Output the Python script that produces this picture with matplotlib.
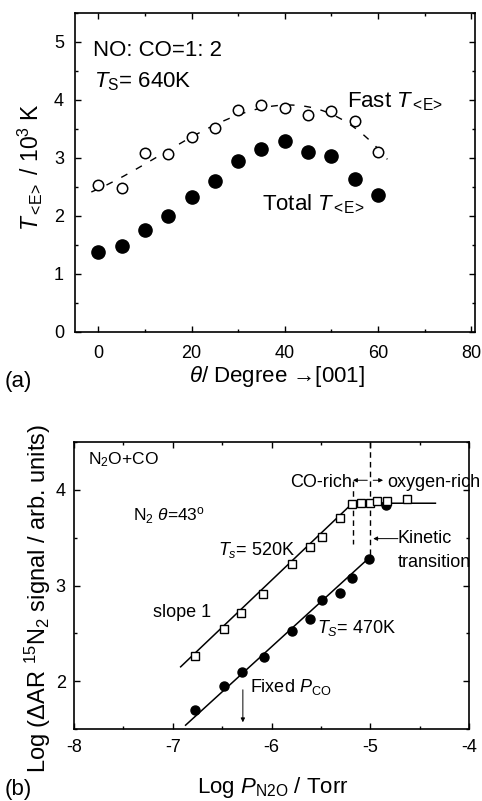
import numpy as np
import matplotlib
matplotlib.use("Agg")
import matplotlib.pyplot as plt
from matplotlib.ticker import MultipleLocator

plt.rcParams['font.family'] = ['Liberation Sans', 'DejaVu Sans']
plt.rcParams['mathtext.fontset'] = 'custom'
plt.rcParams['mathtext.rm'] = 'Liberation Sans'
plt.rcParams['mathtext.it'] = 'Liberation Sans:italic'
plt.rcParams['mathtext.bf'] = 'Liberation Sans:bold'
plt.rcParams['axes.unicode_minus'] = False

# ---------------- Panel (a) data ----------------
theta = [0, 5, 10, 15, 20, 25, 30, 35, 40, 45, 50, 55, 60]
fast_T = [2.53, 2.48, 3.08, 3.07, 3.37, 3.51, 3.83, 3.91, 3.87, 3.74, 3.81, 3.63, 3.10]
total_T = [1.38, 1.49, 1.76, 2.00, 2.32, 2.60, 2.95, 3.16, 3.29, 3.10, 3.04, 2.64, 2.37]
a_xticks = [0, 20, 40, 60, 80]
a_yticks = [0, 1, 2, 3, 4, 5]

# ---------------- Panel (b) data ----------------
logP_520 = [-6.776, -6.479, -6.304, -6.084, -5.79, -5.61, -5.49, -5.31, -5.18,
            -5.09, -5.005, -4.93, -4.83, -4.63]
sig_520 = [2.26, 2.55, 2.71, 2.91, 3.22, 3.40, 3.51, 3.71, 3.85,
           3.86, 3.86, 3.88, 3.88, 3.90]
logP_470 = [-6.776, -6.479, -6.30, -6.08, -5.79, -5.61, -5.49, -5.31, -5.18, -5.01, -4.84]
sig_470 = [1.70, 1.95, 2.10, 2.25, 2.52, 2.65, 2.85, 2.92, 3.08, 3.28, 3.84]
fit_520_x = [-6.92, -5.18, -4.34]
fit_520_y = [2.15, 3.86, 3.86]
fit_470_x = [-6.87, -5.0]
fit_470_y = [1.54, 3.30]
b_xticks = [-8, -7, -6, -5, -4]
b_yticks = [2, 3, 4]

SUB_E = r"$T_{<\!\mathrm{E}\!>}$"

fig = plt.figure(figsize=(4.82, 8.01), dpi=100)

def style_axes(ax, lbl_size, pad_x, pad_y):
    for s in ax.spines.values():
        s.set_linewidth(1.2)
    ax.tick_params(which='both', direction='in', top=True, right=True,
                   labelsize=lbl_size, width=1.0)
    ax.tick_params(which='major', length=4.5)
    ax.tick_params(which='minor', length=2.5)
    ax.tick_params(axis='x', pad=pad_x)
    ax.tick_params(axis='y', pad=pad_y)

# ---------------- Panel (a) ----------------
ax1 = fig.add_axes([75/482, 1-332/801, 400/482, 319/801])
ax1.set_xlim(-5, 80.8)
ax1.set_ylim(0, 5.5)
ax1.set_xticks(a_xticks)
ax1.set_yticks(a_yticks)
ax1.xaxis.set_minor_locator(MultipleLocator(10))
ax1.yaxis.set_minor_locator(MultipleLocator(0.5))
style_axes(ax1, 13, 9.5, 8)

coef = np.polyfit(theta, fast_T, 4)
xs = np.linspace(-1.5, 62, 200)
ax1.plot(xs, np.polyval(coef, xs), color='black', lw=1.0, dashes=(5, 7), zorder=1)
ax1.plot(theta, fast_T, 'o', ms=7.5, mfc='white', mec='black', mew=1.1, ls='none', zorder=2)
ax1.plot(theta, total_T, 'o', ms=9.5, mfc='black', mec='black', ls='none', zorder=3)

ax1.text(-1.06, 4.76, "NO: CO=1: 2", fontsize=16, ha='left', va='baseline')
ax1.text(-0.9, 4.22, r"$T_\mathrm{S}$= 640K", fontsize=16, ha='left', va='baseline')
ax1.text(53.3, 3.88, "Fast " + SUB_E, fontsize=16, ha='left', va='baseline')
ax1.text(35.2, 2.10, "Total " + SUB_E, fontsize=16, ha='left', va='baseline')

fig.text(30/482, 1-167/801, SUB_E + r" / 10$^3$ K", fontsize=16.5,
         rotation=90, ha='center', va='center')
ax1.text(0.505, -0.158, r"$\theta$/ Degree →[001]", fontsize=16,
         transform=ax1.transAxes, ha='center', va='baseline')
fig.text(5/482, 1-381/801, "(a)", fontsize=16, ha='left', va='center')

# ---------------- Panel (b) ----------------
ax2 = fig.add_axes([74/482, 1-729/801, 395/482, 287/801])
ax2.set_xlim(-8, -4)
ax2.set_ylim(1.5, 4.5)
ax2.set_xticks(b_xticks)
ax2.set_yticks(b_yticks)
ax2.xaxis.set_minor_locator(MultipleLocator(0.5))
ax2.yaxis.set_minor_locator(MultipleLocator(0.5))
style_axes(ax2, 13, 7, 6)

ax2.plot(fit_520_x, fit_520_y, color='black', lw=1.1, zorder=1)
ax2.plot(fit_470_x, fit_470_y, color='black', lw=1.1, zorder=1)
ax2.plot(logP_470, sig_470, 'o', ms=6.5, mfc='black', mec='black', ls='none', zorder=2)
ax2.plot(logP_520, sig_520, 's', ms=5.5, mfc='white', mec='black', mew=1.0, ls='none', zorder=3)

# dashed vertical lines
ax2.plot([-5.17, -5.17], [4.09, 3.43], color='black', lw=1.0, dashes=(4, 3), zorder=1)
ax2.plot([-5.0, -5.0], [4.5, 3.29], color='black', lw=1.0, dashes=(4, 3), zorder=1)

arrow_kw = dict(arrowstyle='-|>', lw=0.7, color='black', mutation_scale=6,
                shrinkA=0, shrinkB=0)
ax2.annotate("", xy=(-5.175, 4.10), xytext=(-5.03, 4.10), arrowprops=arrow_kw)
ax2.annotate("", xy=(-4.87, 4.10), xytext=(-4.97, 4.10), arrowprops=arrow_kw)
ax2.annotate("", xy=(-4.97, 3.49), xytext=(-4.72, 3.49), arrowprops=arrow_kw)
ax2.annotate("", xy=(-6.29, 1.57), xytext=(-6.29, 1.91), arrowprops=arrow_kw)

ax2.text(-5.18, 4.03, "CO-rich", fontsize=13, ha='right', va='baseline')
ax2.text(-4.83, 4.03, "oxygen-rich", fontsize=13, ha='left', va='baseline', clip_on=False)
ax2.text(-4.72, 3.44, "Kinetic", fontsize=13, ha='left', va='baseline', clip_on=False)
ax2.text(-4.72, 3.19, "transition", fontsize=13, ha='left', va='baseline', clip_on=False)
ax2.text(-7.86, 4.27, r"N$_2$O+CO", fontsize=12.5, ha='left', va='baseline')
ax2.text(-7.40, 3.68, r"N$_2$ $\theta$=43$\mathrm{^o}$", fontsize=12.5, ha='left', va='baseline')
ax2.text(-6.54, 3.32, r"$T_s$= 520K", fontsize=13, ha='left', va='baseline')
ax2.text(-7.20, 2.67, "slope 1", fontsize=13, ha='left', va='baseline')
ax2.text(-5.54, 2.50, r"$T_S$= 470K", fontsize=13, ha='left', va='baseline')
ax2.text(-6.22, 1.89, r"Fixed $P_{\mathrm{CO}}$", fontsize=13, ha='left', va='baseline')

fig.text(38/482, 1-598/801, r"Log ($\Delta$AR $^{15}$N$_2$ signal / arb. units)", fontsize=17,
         rotation=90, ha='center', va='center')
ax2.text(0.5025, -0.223, r"Log $P_{\mathrm{N2O}}$ / Torr", fontsize=16,
         transform=ax2.transAxes, ha='center', va='baseline')
fig.text(5/482, 1-789/801, "(b)", fontsize=16, ha='left', va='center')

fig.savefig("out.png", dpi=100)
